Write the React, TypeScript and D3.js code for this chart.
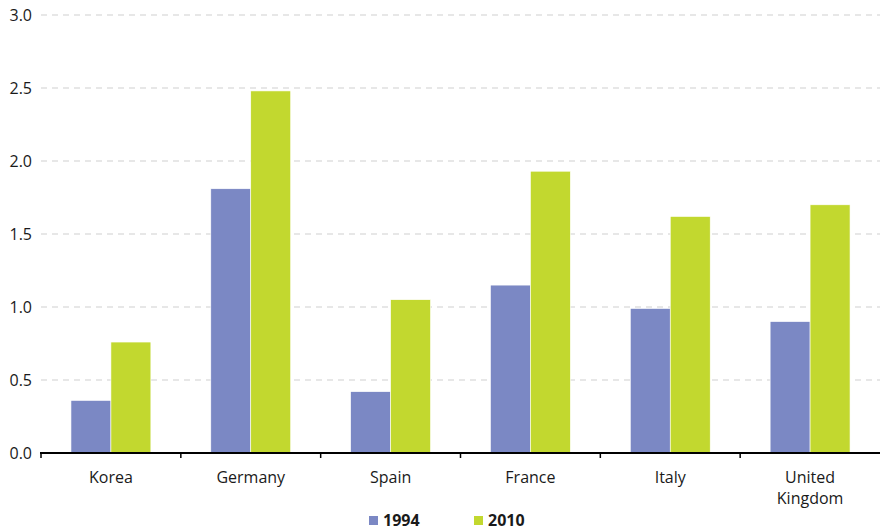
import React from "react";
import * as d3 from "d3";

const categories = ["Korea", "Germany", "Spain", "France", "Italy", "United Kingdom"];
const series = ["1994", "2010"];
const values1994 = [0.36, 1.81, 0.42, 1.15, 0.99, 0.9];
const values2010 = [0.76, 2.48, 1.05, 1.93, 1.62, 1.7];
const yTicks = [0, 0.5, 1.0, 1.5, 2.0, 2.5, 3.0];
const colors = ["#7b88c4", "#c2d82f"];

const W = 880;
const H = 531;
const margin = { left: 41, right: 0, top: 15, bottom: 78 };

export default function App() {
  const x = d3.scaleBand<string>().domain(categories).range([margin.left, W - margin.right]).paddingInner(0).paddingOuter(0);
  const y = d3.scaleLinear().domain([0, 3]).range([H - margin.bottom, margin.top]);
  const inner = d3.scaleBand<string>().domain(series).range([0, x.bandwidth()]).paddingInner(0).paddingOuter(0.75);
  const data = [values1994, values2010];
  const font = "'Open Sans', 'Noto Sans', sans-serif";
  const y0 = y(0);

  return (
    <svg width={W} height={H} style={{ position: "absolute", left: 0, top: 0, background: "#fff" }} fontFamily={font}>
      {yTicks.map((t) => (
        <g key={t}>
          {t > 0 && (
            <line x1={margin.left} x2={W} y1={y(t)} y2={y(t)} stroke="#cfcfcf" strokeWidth={1.2} strokeDasharray="6,5" />
          )}
          <text x={32} y={y(t)} dy="0.35em" textAnchor="end" fontSize={16} fill="#1a1a1a">
            {t.toFixed(1)}
          </text>
        </g>
      ))}
      {categories.map((c, i) => (
        <g key={c}>
          {series.map((s, j) => {
            const v = data[j][i];
            return (
              <rect
                key={s}
                x={(x(c) as number) + (inner(s) as number)}
                y={y(v)}
                width={inner.bandwidth()}
                height={y0 - y(v)}
                fill={colors[j]}
                stroke="#ffffff"
                strokeWidth={0.6}
              />
            );
          })}
        </g>
      ))}
      <line x1={margin.left - 1} x2={W} y1={y0} y2={y0} stroke="#000" strokeWidth={2.2} />
      {categories.map((c) => (
        <line key={"t" + c} x1={x(c) as number} x2={x(c) as number} y1={y0} y2={y0 + 5} stroke="#000" strokeWidth={1.5} />
      ))}
      {categories.map((c) => {
        const cx = (x(c) as number) + x.bandwidth() / 2;
        const parts = c === "United Kingdom" ? ["United", "Kingdom"] : [c];
        return (
          <text key={"l" + c} x={cx} y={483} textAnchor="middle" fontSize={16} fill="#1a1a1a">
            {parts.map((p, k) => (
              <tspan key={k} x={cx} dy={k === 0 ? 0 : 21}>
                {p}
              </tspan>
            ))}
          </text>
        );
      })}
      {series.map((s, j) => {
        const lx = 369 + j * 105;
        return (
          <g key={"lg" + s}>
            <rect x={lx} y={516} width={9} height={9} fill={colors[j]} />
            <text x={lx + 14} y={526} fontSize={16} fontWeight="bold" fill="#1a1a1a">
              {s}
            </text>
          </g>
        );
      })}
    </svg>
  );
}
